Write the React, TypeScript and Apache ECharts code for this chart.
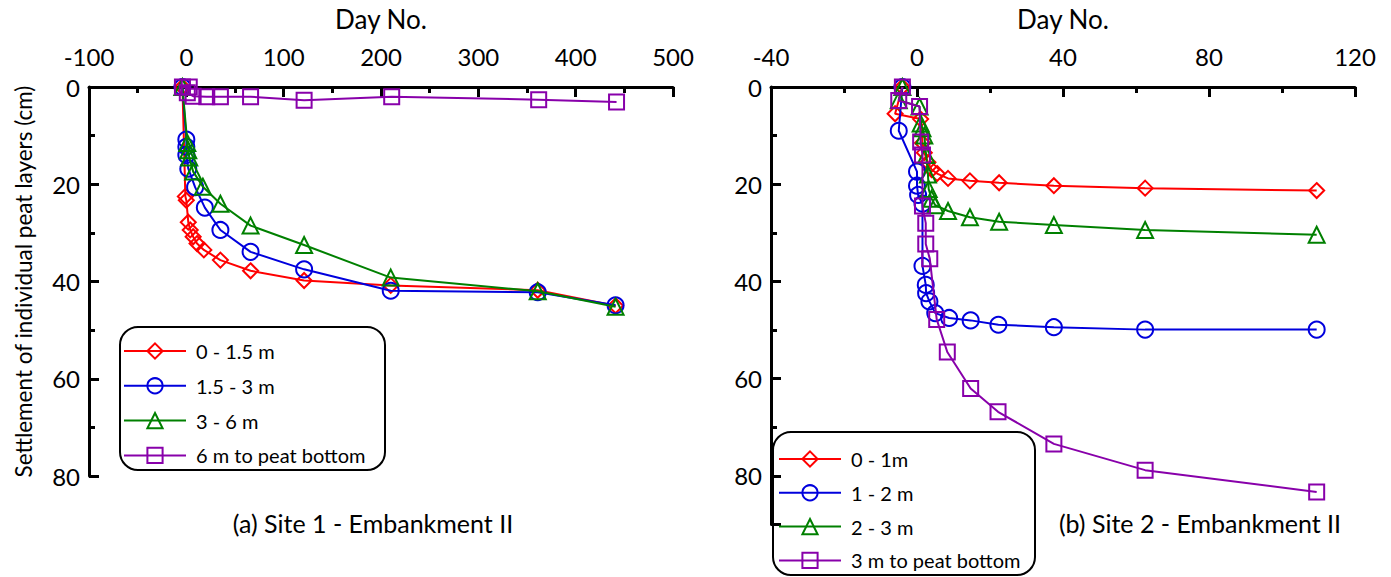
import React, { useEffect, useRef } from "react";
import * as echarts from "echarts";

const leftNames = ["0 - 1.5 m", "1.5 - 3 m", "3 - 6 m", "6 m to peat bottom"];
const rightNames = ["0 - 1m", "1 - 2 m", "2 - 3 m", "3 m to peat bottom"];
const colors = ["#ff0000", "#0000dd", "#008000", "#8800aa"];
const symbols = ["diamond", "circle", "triangle", "rect"];
const symbolSizes = [15, 16, 16, 15];

const leftXTicks = { min: -100, max: 500, interval: 100 };
const rightXTicks = { min: -40, max: 120, interval: 40 };

// Site 1 (day, settlement cm)
const site1Layer0to15 = [[-4, 0], [-1, 22.5], [0, 23.3], [2, 27.8], [4, 29.4], [7, 30.8], [11, 32.2], [18, 33.5], [35, 35.6], [66, 37.8], [121, 39.8], [210, 40.8], [361, 41.8], [441, 45]];
const site1Layer15to3 = [[-4, 0], [0, 10.8], [0, 12.3], [0, 14], [2, 16.8], [9, 20.6], [19, 24.8], [35, 29.4], [66, 33.9], [121, 37.5], [210, 41.9], [361, 42.2], [441, 44.9]];
const site1Layer3to6 = [[-4, 0], [1, 11.5], [2, 13], [3, 14.5], [7, 17.4], [17, 20.5], [35, 24], [66, 28.5], [121, 32.5], [210, 39.2], [361, 42], [441, 45.2]];
const site1Layer6toBottom = [[-4, 0], [3, 0], [1, 1.2], [7, 1.9], [21, 2], [35, 2], [66, 2], [121, 2.7], [211, 2], [362, 2.6], [442, 3.1]];

// Site 2 (day, settlement cm)
const site2Layer0to1 = [[-4, 0], [-6, 5.5], [1, 6.6], [1.5, 11.5], [2, 13.5], [3, 15.5], [4, 17], [5.5, 17.8], [8.5, 18.8], [14.5, 19.3], [22.5, 19.7], [37.5, 20.3], [62.5, 20.8], [109.5, 21.3]];
const site2Layer1to2 = [[-4, 0], [-5, 9], [0, 17.4], [0, 20.3], [0.3, 22.2], [1.5, 24], [1.5, 36.8], [2.4, 40.7], [2.5, 42.4], [3.4, 44.1], [5, 46.5], [8.8, 47.5], [14.7, 48], [22.3, 48.9], [37.5, 49.4], [62.5, 49.9], [109.5, 49.9]];
const site2Layer2to3 = [[-4, 0], [-5, 2.7], [0.7, 4], [1, 7.5], [1.5, 8.5], [2, 10], [2.5, 14], [3, 18], [3.2, 21], [4, 23], [5, 24.3], [8.5, 25.5], [14.5, 26.8], [22.5, 27.7], [37.5, 28.4], [62.5, 29.4], [109.5, 30.4]];
const site2Layer3toBottom = [[-4, 0], [-5, 2.8], [0.7, 4], [1, 11.3], [1.5, 14], [1.5, 24.5], [2.4, 28], [2.4, 32.3], [3.5, 35.3], [5.4, 47.8], [8.3, 54.5], [14.7, 62], [22.2, 66.8], [37.5, 73.4], [62.5, 78.8], [109.5, 83.3]];

const leftData = [site1Layer0to15, site1Layer15to3, site1Layer3to6, site1Layer6toBottom];
const rightData = [site2Layer0to1, site2Layer1to2, site2Layer2to3, site2Layer3toBottom];

const FONT = "Lato";

function xAxisCfg(gridIndex: number, t: { min: number; max: number; interval: number }) {
  return {
    type: "value",
    gridIndex,
    position: "top",
    min: t.min,
    max: t.max,
    interval: t.interval,
    name: "Day No.",
    nameLocation: "middle",
    nameGap: 55,
    nameTextStyle: { fontSize: 26, color: "#000", fontFamily: FONT },
    axisLine: { onZero: false, lineStyle: { color: "#000", width: 3 } },
    axisTick: { inside: true, length: 10, lineStyle: { color: "#000", width: 3 } },
    minorTick: { show: true, splitNumber: 2, length: 6, lineStyle: { color: "#000", width: 3 } },
    axisLabel: { fontSize: 24, color: "#000", margin: 19, fontFamily: FONT },
    splitLine: { show: false },
  };
}

function yAxisCfg(gridIndex: number, max: number, withName: boolean) {
  return {
    type: "value",
    gridIndex,
    inverse: true,
    min: 0,
    max,
    interval: 20,
    name: withName ? "Settlement of individual peat layers (cm)" : "",
    nameLocation: "middle",
    nameGap: 54,
    nameTextStyle: { fontSize: 22.5, color: "#000", fontFamily: FONT },
    axisLine: { onZero: false, lineStyle: { color: "#000", width: 3 } },
    axisTick: { inside: true, length: 10, lineStyle: { color: "#000", width: 3 } },
    minorTick: { show: true, splitNumber: 2, length: 6, lineStyle: { color: "#000", width: 3 } },
    axisLabel: {
      fontSize: 24,
      color: "#000",
      margin: 9,
      fontFamily: FONT,
      formatter: (v: number) => (v > 80 ? "" : String(v)),
    },
    splitLine: { show: false },
  };
}

function makeSeries(names: string[], data: number[][][], idx: number) {
  return names.map((name, i) => ({
    name,
    type: "line",
    xAxisIndex: idx,
    yAxisIndex: idx,
    data: data[i],
    symbol: symbols[i],
    symbolSize: symbolSizes[i],
    showAllSymbol: true,
    lineStyle: { color: colors[i], width: 2 },
    itemStyle: { color: "rgba(255,255,255,0)", borderColor: colors[i], borderWidth: 2 },
    emphasis: { disabled: true },
    z: 2 + i,
  }));
}

function legendCfg(names: string[], left: number, top: number, gap: number) {
  return {
    data: names,
    left,
    top,
    orient: "vertical",
    itemWidth: 62,
    itemHeight: 19,
    itemGap: gap,
    padding: 0,
    selectedMode: false,
    textStyle: { fontSize: 20, color: "#000", fontFamily: FONT, padding: [0, 0, 0, 5] },
  };
}

export default function App() {
  const ref = useRef<HTMLDivElement>(null);
  useEffect(() => {
    document.body.style.margin = "0";
    if (!ref.current) return;
    const chart = echarts.init(ref.current, undefined, { renderer: "svg" });
    chart.setOption({
      animation: false,
      backgroundColor: "#fff",
      textStyle: { fontFamily: FONT },
      grid: [
        { left: 89, top: 87, width: 584, height: 389 },
        { left: 771, top: 87, width: 584, height: 437.6 },
      ],
      xAxis: [xAxisCfg(0, leftXTicks), xAxisCfg(1, rightXTicks)],
      yAxis: [yAxisCfg(0, 80, true), yAxisCfg(1, 90, false)],
      legend: [legendCfg(leftNames, 123, 341, 14.8), legendCfg(rightNames, 778, 449, 13.8)],
      graphic: [
        {
          type: "rect",
          shape: { x: 120, y: 327, width: 265, height: 143, r: 18 },
          style: { fill: "none", stroke: "#000", lineWidth: 2 },
          z: 0,
        },
        {
          type: "rect",
          shape: { x: 773, y: 432, width: 262, height: 143, r: 18 },
          style: { fill: "#fff", stroke: "#000", lineWidth: 2 },
          z: 0,
        },
        {
          type: "text",
          x: 373,
          y: 523,
          style: { text: "(a) Site 1 - Embankment II", font: `25px ${FONT}`, fill: "#000", textAlign: "center", textVerticalAlign: "middle" },
        },
        {
          type: "text",
          x: 1200,
          y: 523,
          style: { text: "(b) Site 2 - Embankment II", font: `25px ${FONT}`, fill: "#000", textAlign: "center", textVerticalAlign: "middle" },
        },
      ],
      series: [...makeSeries(leftNames, leftData, 0), ...makeSeries(rightNames, rightData, 1)],
    });
    return () => chart.dispose();
  }, []);
  return <div ref={ref} style={{ width: 1391, height: 577 }} />;
}
